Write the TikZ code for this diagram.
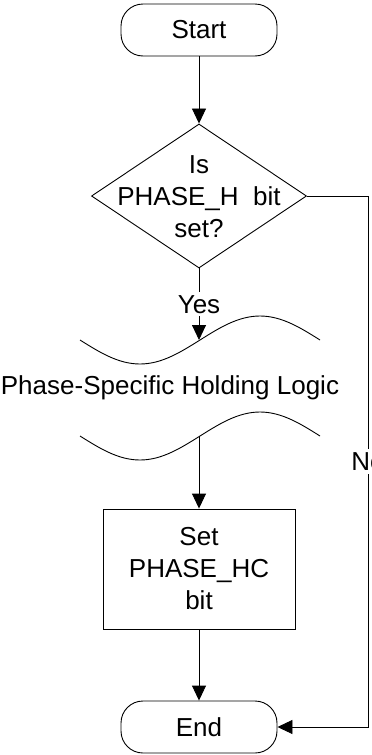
\documentclass[tikz,border=0pt]{standalone}
\usepackage{fontspec}
\setmainfont{Liberation Sans}
\usetikzlibrary{arrows.meta, shapes.geometric, calc}

\begin{document}
\begin{tikzpicture}[x=1pt, y=-1pt,
    every node/.style={font=\fontsize{26}{32}\selectfont},
    flowline/.style={line width=0.9pt},
    flowarrow/.style={flowline, -{Triangle[length=15pt, width=14pt]}},
    terminal/.style={draw, line width=0.9pt, rounded corners=22pt, minimum width=156pt, minimum height=52pt},
    decision/.style={draw, line width=0.9pt, diamond, minimum width=215pt, minimum height=144pt, inner sep=0pt},
    process/.style={draw, line width=0.9pt, minimum width=192pt, minimum height=120pt, align=center}]
  \useasboundingbox (0,0) rectangle (372,755);
  % shapes
  \node[terminal] (start) at (199,30) {Start};
  \node[decision] (phaseh) at (199,196) {};
  \node[align=center] (phasehtxt) at (199,197) {Is\\PHASE\_H~~bit\\set?};
  \draw[flowline] plot[domain=80:320, samples=61] (\x, {340+24*sin((\x-80)*1.5)});
  \node (holding) at (170,388) {Phase-Specific Holding Logic};
  \draw[flowline] plot[domain=80:320, samples=61] (\x, {436+24*sin((\x-80)*1.5)});
  \coordinate (wavetop) at (199,340);
  \coordinate (wavebot) at (199,436);
  \node[process] (sethc) at (199,569) {Set\\PHASE\_HC\\bit};
  \node[terminal] (finish) at (199,727) {End};
  % connectors
  \coordinate (rail) at (368,0);
  \draw[flowarrow] (start) -- (phaseh);
  \draw[flowarrow] (phaseh) -- node[fill=white, inner sep=3pt] (yes) {Yes} (wavetop);
  \draw[flowarrow] (wavebot) -- (sethc);
  \draw[flowarrow] (sethc) -- (finish);
  \draw[flowarrow] (phaseh.east) -- (phaseh.east -| rail) -- node[fill=white, inner sep=3pt] (no) {No} (finish.east -| rail) -- (finish.east);
\end{tikzpicture}
\end{document}
